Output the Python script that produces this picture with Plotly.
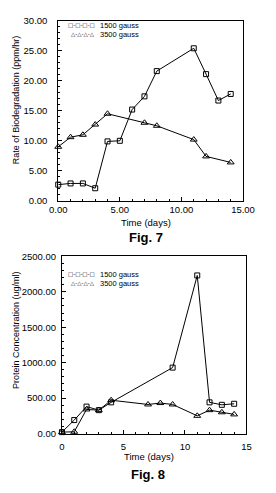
import plotly.graph_objects as go

# ---- data (Fig. 7) ----
days7_1500 = [0, 1, 2, 3, 4, 5, 6, 7, 8, 11, 12, 13, 14]
rate_1500 = [2.7, 2.9, 2.9, 2.1, 9.9, 10.0, 15.2, 17.4, 21.6, 25.4, 21.1, 16.7, 17.8]
days7_3500 = [0, 1, 2, 3, 4, 7, 8, 11, 12, 14]
rate_3500 = [9.0, 10.6, 11.0, 12.7, 14.5, 13.0, 12.5, 10.2, 7.4, 6.4]

# ---- data (Fig. 8) ----
days8_1500 = [0, 1, 2, 3, 4, 9, 11, 12, 13, 14]
prot_1500 = [20, 190, 380, 330, 440, 930, 2230, 440, 405, 420]
days8_3500 = [0, 1, 2, 3, 4, 7, 8, 9, 11, 12, 13, 14]
prot_3500 = [20, 25, 340, 330, 470, 410, 430, 410, 250, 330, 300, 270]

series_names = ["1500 gauss", "3500 gauss"]
fig7_ticks = ["0.00", "5.00", "10.00", "15.00"]
fig7_yticks = ["0.00", "5.00", "10.00", "15.00", "20.00", "25.00", "30.00"]
fig8_ticks = ["0", "5", "10", "15"]
fig8_yticks = ["0.00", "500.00", "1000.00", "1500.00", "2000.00", "2500.00"]

W, H = 276, 493
FONT = "Liberation Sans, Arial, sans-serif"


def px(x):
    return x / W


def py(y):
    return 1 - y / H


line = dict(color="black", width=1)
fig = go.Figure()
fig.add_trace(go.Scatter(x=days7_1500, y=rate_1500, mode="lines+markers", name=series_names[0],
                         line=line, marker=dict(symbol="square-open", size=5, color="black", line=dict(width=1)),
                         xaxis="x", yaxis="y", cliponaxis=False, showlegend=False))
fig.add_trace(go.Scatter(x=days7_3500, y=rate_3500, mode="lines+markers", name=series_names[1],
                         line=line, marker=dict(symbol="triangle-up-open", size=6, color="black", line=dict(width=1)),
                         xaxis="x", yaxis="y", cliponaxis=False, showlegend=False))
fig.add_trace(go.Scatter(x=days8_1500, y=prot_1500, mode="lines+markers", name=series_names[0],
                         line=line, marker=dict(symbol="square-open", size=5, color="black", line=dict(width=1)),
                         xaxis="x2", yaxis="y2", cliponaxis=False, showlegend=False))
fig.add_trace(go.Scatter(x=days8_3500, y=prot_3500, mode="lines+markers", name=series_names[1],
                         line=line, marker=dict(symbol="triangle-up-open", size=6, color="black", line=dict(width=1)),
                         xaxis="x2", yaxis="y2", cliponaxis=False, showlegend=False))

axcommon = dict(showline=True, linecolor="black", linewidth=1, mirror=True, showgrid=False, zeroline=False,
                ticks="inside", ticklen=4, tickcolor="black", tickfont=dict(family=FONT, size=9.5, color="black"))

fig.update_layout(
    width=W, height=H, margin=dict(l=0, r=0, t=0, b=0),
    paper_bgcolor="white", plot_bgcolor="white",
    xaxis=dict(domain=[px(53.3), px(253.3)], range=[0, 15], anchor="y",
               tickvals=[0, 5, 10, 15], ticktext=fig7_ticks, ticklabelstandoff=0,
               minor=dict(dtick=1, ticklen=2, ticks="inside", tickcolor="black"), **axcommon),
    yaxis=dict(domain=[py(199.3), py(15)], range=[0, 30], anchor="x",
               tickvals=[0, 5, 10, 15, 20, 25, 30], ticktext=fig7_yticks, ticklabelstandoff=8,
               minor=dict(dtick=1, ticklen=2, ticks="inside", tickcolor="black"), **axcommon),
    xaxis2=dict(domain=[px(57.3), px(257)], range=[0, 15], anchor="y2",
                tickvals=[0, 5, 10, 15], ticktext=fig8_ticks, ticklabelstandoff=4,
                minor=dict(dtick=1, ticklen=2, ticks="inside", tickcolor="black"), **axcommon),
    yaxis2=dict(domain=[py(437.3), py(256)], range=[0, 2500], anchor="x2",
                tickvals=[0, 500, 1000, 1500, 2000, 2500], ticktext=fig8_yticks, ticklabelstandoff=3,
                minor=dict(dtick=100, ticklen=2, ticks="inside", tickcolor="black"), **axcommon),
)

anns = [
    dict(text="Rate of Biodegradation (ppm/hr)", x=px(7), y=py(96), textangle=-90, size=9),
    dict(text="Time (days)", x=px(148), y=py(221), size=9.5),
    dict(text="<b>Fig. 7</b>", x=px(148), y=py(237), size=13),
    dict(text="Protein Concentration (ug/ml)", x=px(7), y=py(331), textangle=-90, size=9),
    dict(text="Time (days)", x=px(151.5), y=py(461), size=9.5),
    dict(text="<b>Fig. 8</b>", x=px(150), y=py(479), size=13),
]
for a in anns:
    fig.add_annotation(text=a["text"], x=a["x"], y=a["y"], xref="paper", yref="paper",
                       textangle=a.get("textangle", 0), showarrow=False,
                       xanchor="center", yanchor="middle",
                       font=dict(family=FONT, size=a["size"], color="black"))

# legends (drawn as text, like the original key)
legend_rows = [
    ("□-□-□-□", series_names[0], 19.5),
    ("△-△-△-△", series_names[1], 29),
    ("□-□-□-□", series_names[0], 274.5),
    ("△-△-△-△", series_names[1], 283.5),
]
for sym, name, yy in legend_rows:
    fig.add_annotation(text=sym, x=px(95.5), y=py(yy), xref="paper", yref="paper", showarrow=False,
                       xanchor="right", yanchor="middle", font=dict(family="DejaVu Sans", size=5.5, color="black"))
    fig.add_annotation(text=name, x=px(96.5), y=py(yy), xref="paper", yref="paper", showarrow=False,
                       xanchor="left", yanchor="middle", font=dict(family=FONT, size=7.5, color="black"))

fig.write_html("out.html")
